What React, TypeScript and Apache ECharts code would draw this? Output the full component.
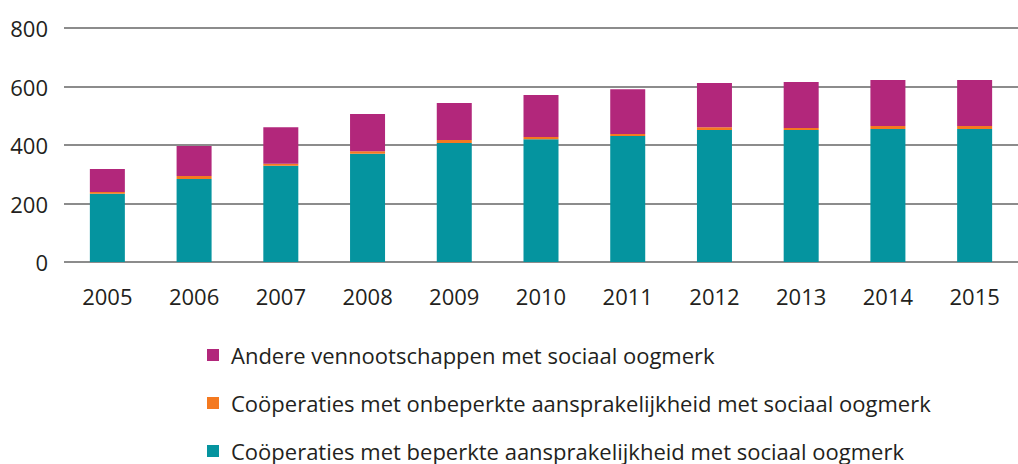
import React, { useEffect, useRef } from "react";
import * as echarts from "echarts";

const years = ["2005", "2006", "2007", "2008", "2009", "2010", "2011", "2012", "2013", "2014", "2015"];
const beperkt = [233, 284, 329, 370, 407, 420, 431, 451, 451, 455, 455];
const onbeperkt = [6, 10, 7, 9, 10, 7, 7, 10, 7, 10, 10];
const andere = [79, 103, 125, 127, 127, 144, 153, 151, 157, 157, 157];
const yTicks = { min: 0, max: 800, interval: 200 };

const names = [
  "Andere vennootschappen met sociaal oogmerk",
  "Coöperaties met onbeperkte aansprakelijkheid met sociaal oogmerk",
  "Coöperaties met beperkte aansprakelijkheid met sociaal oogmerk",
];
const colors = ["#B2277B", "#F47920", "#05949F"];
const FONT = "'Open Sans', sans-serif";

export default function App() {
  const ref = useRef<HTMLDivElement>(null);
  useEffect(() => {
    if (!ref.current) return;
    const chart = echarts.init(ref.current, undefined, { renderer: "svg" });
    const mk = (name: string, data: number[], color: string) => ({
      name,
      type: "bar",
      stack: "total",
      data,
      barWidth: 35,
      itemStyle: { color },
    });
    chart.setOption({
      animation: false,
      textStyle: { fontFamily: FONT },
      grid: { left: 64, top: 28, width: 968, height: 234, containLabel: false },
      xAxis: {
        type: "category",
        data: years,
        axisLine: { show: false },
        axisTick: { show: false },
        axisLabel: { color: "#231F20", fontSize: 22, margin: 23, fontFamily: FONT },
      },
      yAxis: {
        type: "value",
        min: yTicks.min,
        max: yTicks.max,
        interval: yTicks.interval,
        axisLine: { show: false },
        axisTick: { show: false },
        axisLabel: { color: "#231F20", fontSize: 22, margin: 16, fontFamily: FONT },
        splitLine: { lineStyle: { color: "#666", width: 1.5 } },
      },
      legend: {
        orient: "vertical",
        left: 207,
        top: 344,
        height: 119,
        padding: 0,
        itemWidth: 12,
        itemHeight: 12,
        itemGap: 26,
        icon: "rect",
        data: names,
        textStyle: {
          color: "#231F20",
          fontSize: 22,
          lineHeight: 22,
          fontFamily: FONT,
          padding: [0, 0, 0, 7],
        },
      },
      series: [
        mk(names[2], beperkt, colors[2]),
        mk(names[1], onbeperkt, colors[1]),
        mk(names[0], andere, colors[0]),
      ],
    });
    return () => chart.dispose();
  }, []);
  return (
    <div
      ref={ref}
      style={{ position: "fixed", left: 0, top: 0, width: 1018, height: 464, background: "#fff" }}
    />
  );
}
